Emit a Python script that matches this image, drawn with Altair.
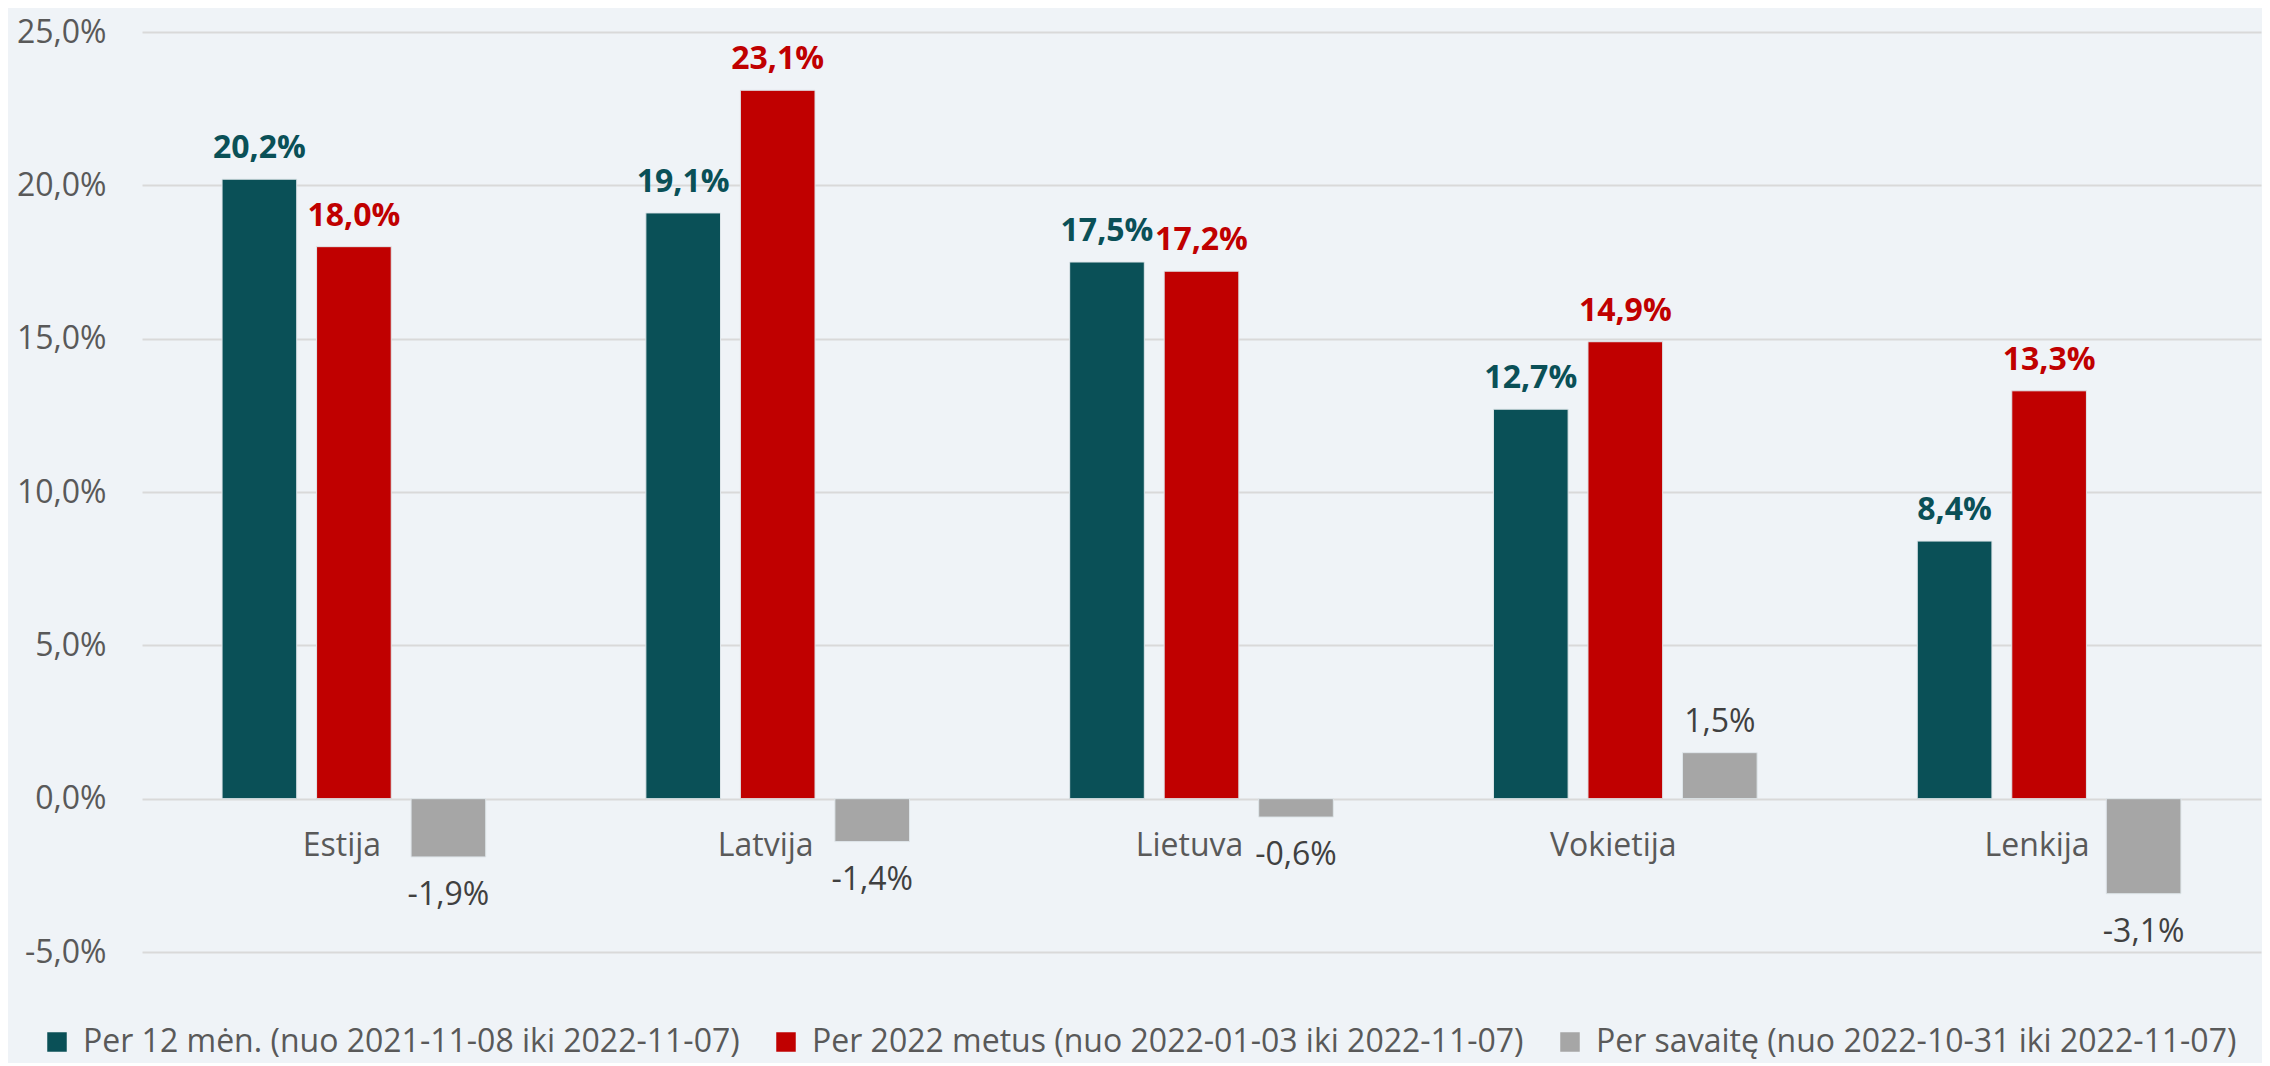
import altair as alt
import pandas as pd

countries = ["Estija", "Latvija", "Lietuva", "Vokietija", "Lenkija"]
series = [
    "Per 12 mėn. (nuo 2021-11-08 iki 2022-11-07)",
    "Per 2022 metus (nuo 2022-01-03 iki 2022-11-07)",
    "Per savaitę (nuo 2022-10-31 iki 2022-11-07)",
]
v_12m = [20.2, 19.1, 17.5, 12.7, 8.4]
v_2022 = [18.0, 23.1, 17.2, 14.9, 13.3]
v_week = [-1.9, -1.4, -0.6, 1.5, -3.1]
bar_colors = ["#0a5057", "#c00000", "#a6a6a6"]
label_colors = ["#0a5057", "#c00000", "#404040"]
y_ticks = [-5, 0, 5, 10, 15, 20, 25]

FONT = "Open Sans"

rows = []
for si, vals in enumerate([v_12m, v_2022, v_week]):
    for c, v in zip(countries, vals):
        rows.append({
            "country": c,
            "series": series[si],
            "value": v,
            "label": f"{v:.1f}%".replace(".", ","),
            "tcolor": label_colors[si],
            "sidx": si,
        })
df = pd.DataFrame(rows)

x_enc = alt.X("country:N", sort=countries, axis=None,
              scale=alt.Scale(paddingInner=0.331, paddingOuter=0.1655))
xo_enc = alt.XOffset("series:N", sort=series,
                     scale=alt.Scale(paddingInner=0.21, paddingOuter=0.105))
y_scale = alt.Scale(domain=[-5, 25], nice=False, zero=False)

base = alt.Chart(df)

bars = base.mark_bar(stroke="#dfe6ea", strokeWidth=1).encode(
    x=x_enc,
    xOffset=xo_enc,
    y=alt.Y("value:Q", scale=y_scale, title=None,
            axis=alt.Axis(values=y_ticks, grid=True, gridColor="#d9d9d9", gridWidth=2,
                          domain=False, ticks=False, labelFontSize=32, labelFont=FONT,
                          labelColor="#595959", labelPadding=36,
                          labelExpr="(datum.value < 0 ? '-' : '') + replace(format(abs(datum.value), '.1f'), '.', ',') + '%'")),
    color=alt.Color("series:N", sort=series,
                    scale=alt.Scale(domain=series, range=bar_colors),
                    legend=alt.Legend(title=None, orient="none", legendX=-101, legendY=994,
                                      direction="horizontal", columns=3,
                                      symbolType="square", symbolSize=380,
                                      symbolStrokeWidth=0, labelFontSize=32,
                                      labelFont=FONT, labelColor="#595959",
                                      labelLimit=2000, labelOffset=10,
                                      columnPadding=30, padding=0)),
)

text_bold = base.transform_filter("datum.sidx < 2").mark_text(
    font=FONT, fontSize=32, fontWeight="bold", baseline="alphabetic", dy=-21
).encode(
    x=x_enc, xOffset=xo_enc,
    y=alt.Y("value:Q", scale=y_scale),
    text="label:N",
    color=alt.Color("tcolor:N", scale=None),
)

text_week_pos = base.transform_filter("datum.sidx == 2 && datum.value > 0").mark_text(
    font=FONT, fontSize=32, baseline="alphabetic", dy=-21, color="#404040"
).encode(
    x=x_enc, xOffset=xo_enc,
    y=alt.Y("value:Q", scale=y_scale),
    text="label:N",
)

text_week_neg = base.transform_filter("datum.sidx == 2 && datum.value < 0").mark_text(
    font=FONT, fontSize=32, baseline="alphabetic", dy=48, color="#404040"
).encode(
    x=x_enc, xOffset=xo_enc,
    y=alt.Y("value:Q", scale=y_scale),
    text="label:N",
)

cat_labels = base.transform_filter("datum.sidx == 0").mark_text(
    font=FONT, fontSize=32, baseline="middle", dy=47, dx=-12, color="#595959"
).encode(
    x=x_enc,
    y=alt.datum(0),
    text="country:N",
)

chart = alt.layer(bars, text_bold, text_week_pos, text_week_neg, cat_labels).properties(
    width=2119,
    height=920,
    autosize=alt.AutoSizeParams(type="none"),
    padding={"left": 134, "top": 24, "right": 1, "bottom": 111},
    background="#eff3f7",
).configure_view(stroke=None)

chart.save("out.html", embed_options={"renderer": "svg", "actions": False})
